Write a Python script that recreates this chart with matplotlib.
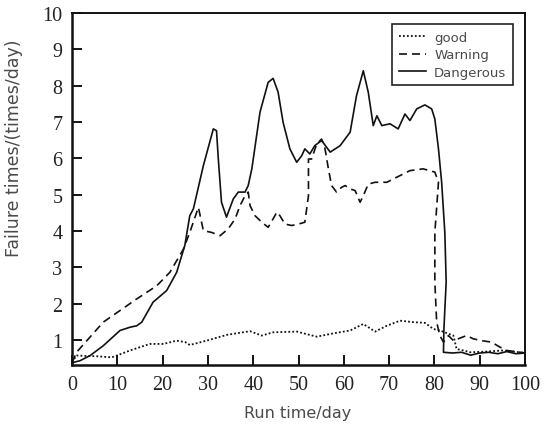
import numpy as np
import matplotlib
matplotlib.use("Agg")
import matplotlib.pyplot as plt

# values
good_x = [0, 1.0, 5.5, 8.8, 12.8, 17.2, 20.2, 23.1, 25.0, 26.0, 29.7, 34.2,
          39.3, 41.9, 44.4, 49.6, 54.0, 57.7, 61.4, 64.3, 66.9, 69.5, 72.4,
          75.3, 77.9, 79.8, 81.2, 84.2, 84.9, 86.4, 87.9, 91.5, 95.2, 98.9, 100]
good_y = [0.39, 0.57, 0.55, 0.52, 0.71, 0.89, 0.89, 0.98, 0.94, 0.86, 0.98, 1.14,
          1.24, 1.12, 1.21, 1.23, 1.09, 1.18, 1.26, 1.44, 1.23, 1.39, 1.53,
          1.49, 1.47, 1.30, 1.26, 1.12, 0.75, 0.71, 0.66, 0.68, 0.71, 0.66, 0.64]

warn_x = [0, 1.0, 6.9, 14.3, 18.7, 21.6, 24.6, 26.0, 27.9, 28.6, 29.0, 30.8,
          32.7, 34.5, 36.0, 37.1, 38.2, 38.9, 39.3, 40.4, 41.9, 43.3, 44.8,
          45.2, 45.9, 47.0, 48.5, 50.0, 51.4, 52.2, 52.2, 52.9, 54.0, 55.1,
          55.8, 56.6, 57.3, 58.4, 59.5, 60.3, 61.4, 62.5, 63.6, 64.3, 65.4,
          66.9, 69.5, 71.7, 74.6, 77.5, 80.1, 80.9, 80.1, 80.1, 80.5, 81.2,
          82.0, 83.1, 84.2, 87.1, 88.6, 90.4, 92.6, 94.5, 96.0, 98.9, 100]
warn_y = [0.37, 0.66, 1.49, 2.13, 2.49, 2.86, 3.50, 3.96, 4.65, 4.24, 4.01, 3.96,
          3.87, 4.06, 4.33, 4.70, 4.97, 5.07, 4.70, 4.42, 4.24, 4.10, 4.42,
          4.52, 4.42, 4.19, 4.15, 4.19, 4.24, 4.97, 5.98, 5.98, 6.39, 6.53,
          6.30, 5.71, 5.25, 5.07, 5.20, 5.25, 5.16, 5.11, 4.79, 4.97, 5.29,
          5.34, 5.34, 5.48, 5.66, 5.71, 5.62, 5.34, 3.96, 2.59, 1.49, 1.12,
          0.94, 1.12, 0.98, 1.12, 1.03, 0.98, 0.94, 0.80, 0.71, 0.66, 0.64]

dang_x = [0, 1.8, 4.0, 6.9, 10.6, 12.8, 14.3, 15.4, 17.9, 20.9, 23.1, 24.9,
          26.0, 26.8, 29.0, 31.2, 31.9, 32.3, 33.0, 34.1, 35.6, 36.7, 38.2,
          38.9, 39.7, 41.5, 43.3, 44.4, 45.5, 46.6, 48.1, 49.6, 50.7, 51.4,
          52.5, 53.6, 55.1, 57.0, 59.2, 61.4, 62.8, 64.3, 65.4, 66.5, 67.3,
          68.4, 70.2, 72.0, 73.5, 74.6, 76.1, 77.9, 79.4, 80.1, 80.9, 81.6,
          82.3, 82.6, 82.1, 82.0, 84, 86, 88, 90, 92, 94, 96, 98, 100]
dang_y = [0.37, 0.43, 0.57, 0.84, 1.26, 1.35, 1.39, 1.49, 2.04, 2.36, 2.86, 3.60,
          4.42, 4.61, 5.80, 6.81, 6.76, 5.98, 4.79, 4.38, 4.88, 5.07, 5.07,
          5.25, 5.71, 7.27, 8.09, 8.20, 7.82, 6.99, 6.26, 5.89, 6.07, 6.26,
          6.12, 6.35, 6.49, 6.17, 6.35, 6.72, 7.72, 8.41, 7.82, 6.90, 7.17,
          6.90, 6.95, 6.81, 7.22, 7.04, 7.36, 7.47, 7.36, 7.08, 6.26, 5.34,
          3.96, 2.60, 1.30, 0.66, 0.64, 0.66, 0.58, 0.64, 0.66, 0.62, 0.68, 0.62, 0.64]

x_ticks = list(range(0, 101, 10))
y_ticks = list(range(1, 11))

LINE = "#111111"
TEXT = "#4a4a4a"


def main():
    fig = plt.figure(figsize=(5.44, 4.27), dpi=100)
    ax = fig.add_axes([72 / 544, 1 - 366 / 427, 453 / 544, 352 / 427])

    ax.plot(good_x, good_y, color=LINE, lw=1.3, ls=(0, (1, 1.2)), label="good")
    ax.plot(warn_x, warn_y, color=LINE, lw=1.2, ls=(0, (4.8, 3)), label="Warning")
    ax.plot(dang_x, dang_y, color=LINE, lw=1.2, label="Dangerous")

    ax.set_xlim(0, 100)
    ax.set_ylim(0.31, 10)
    ax.set_xticks(x_ticks)
    ax.set_yticks(y_ticks)

    for s in ax.spines.values():
        s.set_linewidth(1.4)
        s.set_color("#111111")
    ax.spines["left"].set_linewidth(1.8)
    ax.spines["bottom"].set_linewidth(1.8)

    ax.tick_params(direction="in", length=7, width=1.4, color="#111111",
                   labelsize=14.5, pad=7)
    for lab in ax.get_xticklabels() + ax.get_yticklabels():
        lab.set_family("Liberation Serif")
        lab.set_color("#222222")

    leg = ax.legend(loc="upper right", bbox_to_anchor=(513 / 544, 1 - 25 / 427),
                    bbox_transform=fig.transFigure, borderaxespad=0,
                    fancybox=False, framealpha=1, edgecolor="#222222",
                    handlelength=2.1, handletextpad=0.6, labelspacing=0.35,
                    borderpad=0.5, prop={"family": "DejaVu Sans", "size": 9.5})
    leg.get_frame().set_linewidth(1.2)
    for t in leg.get_texts():
        t.set_color(TEXT)

    fig.text(298 / 544, 1 - 414 / 427, "Run time/day", ha="center", va="center",
             fontsize=11.5, color=TEXT, family="DejaVu Sans")
    fig.text(14 / 544, 1 - 148 / 427, "Failure times/(times/day)", ha="center",
             va="center", rotation=90, fontsize=12.5, color=TEXT,
             family="DejaVu Sans")

    fig.savefig("out.png", dpi=100)


if __name__ == "__main__":
    main()
